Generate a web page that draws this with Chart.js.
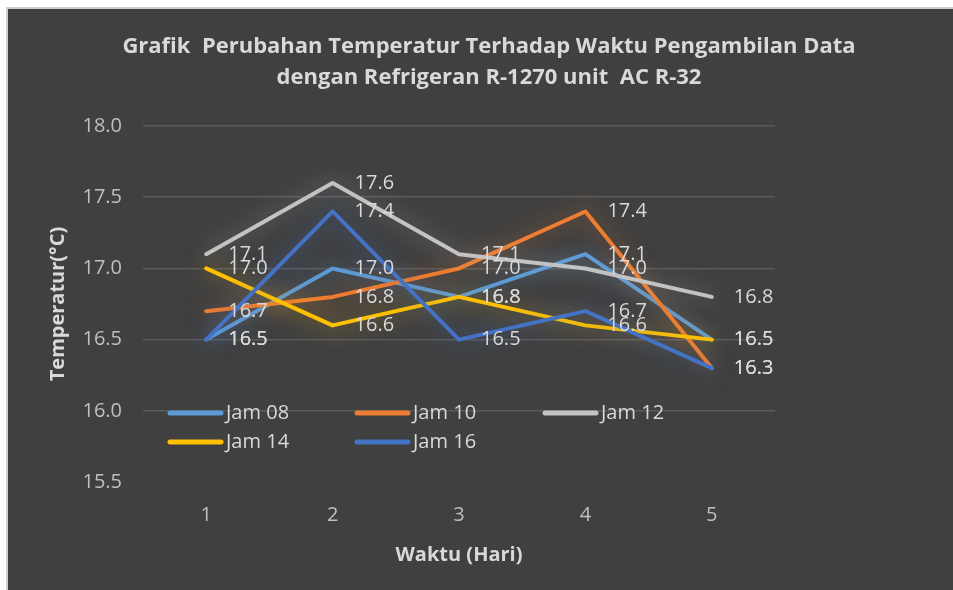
<!DOCTYPE html>
<html>
<head>
<meta charset="utf-8">
<script src="https://cdn.jsdelivr.net/npm/chart.js@4"></script>
<style>
  html, body { margin: 0; padding: 0; background: #ffffff; }
  #frame {
    position: absolute; left: 6px; top: 7px;
    width: 945px; height: 581px;
    border-left: 2px solid #cfcfcf; border-top: 2px solid #cfcfcf;
    background: #404040;
  }
</style>
</head>
<body>
<div id="frame">
  <canvas id="tempChart" width="945" height="581"></canvas>
</div>
<script>
// data
const days = ['1', '2', '3', '4', '5'];
const jam08 = [16.5, 17.0, 16.8, 17.1, 16.5];
const jam10 = [16.7, 16.8, 17.0, 17.4, 16.3];
const jam12 = [17.1, 17.6, 17.1, 17.0, 16.8];
const jam14 = [17.0, 16.6, 16.8, 16.6, 16.5];
const jam16 = [16.5, 17.4, 16.5, 16.7, 16.3];
const seriesNames = ['Jam 08', 'Jam 10', 'Jam 12', 'Jam 14', 'Jam 16'];
const yTicks = [15.5, 16.0, 16.5, 17.0, 17.5, 18.0];

const lineColors = ['#5b9bd5', '#ed7d31', '#c3c3c3', '#ffc000', '#4472c4'];
const glowColors = ['rgba(91,155,213,0.6)', 'rgba(237,125,49,0.6)', 'rgba(200,200,200,0.5)',
                    'rgba(255,192,0,0.6)', 'rgba(68,114,196,0.65)'];
const textColor = '#d9d9d9';
const font = 'Open Sans';

(function () {
  const series = [jam08, jam10, jam12, jam14, jam16];

  // soft glow round every line (Excel "glow" effect)
  const glow = {
    id: 'glow',
    beforeDatasetDraw(chart, args) {
      const ctx = chart.ctx;
      ctx.save();
      ctx.shadowColor = glowColors[args.index];
      ctx.shadowBlur = 22;
    },
    afterDatasetDraw(chart) {
      chart.ctx.restore();
    }
  };

  // value labels to the right of each point
  const pointLabels = {
    id: 'pointLabels',
    afterDatasetsDraw(chart) {
      const ctx = chart.ctx;
      ctx.save();
      ctx.font = '20px "' + font + '"';
      ctx.fillStyle = textColor;
      ctx.textAlign = 'left';
      ctx.textBaseline = 'middle';
      chart.data.datasets.forEach((ds, i) => {
        chart.getDatasetMeta(i).data.forEach((pt, j) => {
          ctx.fillText(ds.data[j].toFixed(1), pt.x + 22, pt.y);
        });
      });
      ctx.restore();
    }
  };

  // legend sits inside the plot, two rows of three
  const insideLegend = {
    id: 'insideLegend',
    afterDraw(chart) {
      const ctx = chart.ctx;
      const colX = [160, 347, 535];
      const rowY = [404, 433];
      ctx.save();
      ctx.font = '20px "' + font + '"';
      ctx.textAlign = 'left';
      ctx.textBaseline = 'middle';
      chart.data.datasets.forEach((ds, i) => {
        const x = colX[i % 3];
        const y = rowY[Math.floor(i / 3)];
        ctx.strokeStyle = ds.borderColor;
        ctx.lineWidth = 5;
        ctx.lineCap = 'round';
        ctx.beginPath();
        ctx.moveTo(x + 2, y);
        ctx.lineTo(x + 53, y);
        ctx.stroke();
        ctx.fillStyle = textColor;
        ctx.fillText(ds.label, x + 58, y);
      });
      ctx.restore();
    }
  };

  new Chart(
    document.getElementById('tempChart'),
    {
      type: 'line',
      data: {
        labels: days,
        datasets: series.map((values, i) => ({
          label: seriesNames[i],
          data: values,
          borderColor: lineColors[i],
          backgroundColor: lineColors[i],
          borderWidth: 4,
          borderJoinStyle: 'round',
          borderCapStyle: 'round',
          pointRadius: 0,
          tension: 0,
          fill: false,
          order: series.length - i
        }))
      },
      options: {
        responsive: false,
        animation: false,
        layout: { padding: { left: 17, right: 0, top: 0, bottom: 0 } },
        plugins: {
          legend: { display: false },
          tooltip: { enabled: false },
          title: {
            display: true,
            text: ['Grafik  Perubahan Temperatur Terhadap Waktu Pengambilan Data',
                   'dengan Refrigeran R-1270 unit  AC R-32'],
            color: textColor,
            font: { family: font, size: 22, weight: 'bold', lineHeight: 1.41 },
            padding: { top: 22, bottom: 33 }
          }
        },
        scales: {
          x: {
            offset: true,
            grid: { display: false, drawTicks: false },
            border: { display: false },
            ticks: { color: '#bfbfbf', font: { family: font, size: 20 }, padding: 21 },
            title: {
              display: true,
              text: 'Waktu (Hari)',
              color: textColor,
              font: { family: font, size: 20, weight: 'bold', lineHeight: 1.2 },
              padding: { top: 0, bottom: 23 }
            },
            afterFit: scale => { scale.height = 108; }
          },
          y: {
            min: 15.5,
            max: 18.0,
            afterBuildTicks: scale => { scale.ticks = yTicks.map(v => ({ value: v })); },
            grid: {
              color: c => (c.tick && c.tick.value === 15.5) ? 'rgba(0,0,0,0)' : '#5a5a5a',
              lineWidth: 1.5,
              drawTicks: false
            },
            border: { display: false },
            ticks: {
              color: '#bfbfbf',
              font: { family: font, size: 20 },
              padding: 21,
              callback: v => Number(v).toFixed(1)
            },
            title: {
              display: true,
              text: 'Temperatur(°C)',
              color: textColor,
              font: { family: font, size: 20, weight: 'bold', lineHeight: 1.2 },
              padding: { top: 21, bottom: 0 }
            },
            afterFit: scale => { scale.width = 118; }
          },
          // empty right-hand axis only keeps the space right of the plot
          yRight: {
            position: 'right',
            min: 15.5,
            max: 18.0,
            grid: { display: false, drawTicks: false },
            border: { display: false },
            ticks: { display: false },
            afterFit: scale => { scale.width = 178; }
          }
        }
      },
      plugins: [glow, pointLabels, insideLegend]
    }
  );
})();
</script>
</body>
</html>
